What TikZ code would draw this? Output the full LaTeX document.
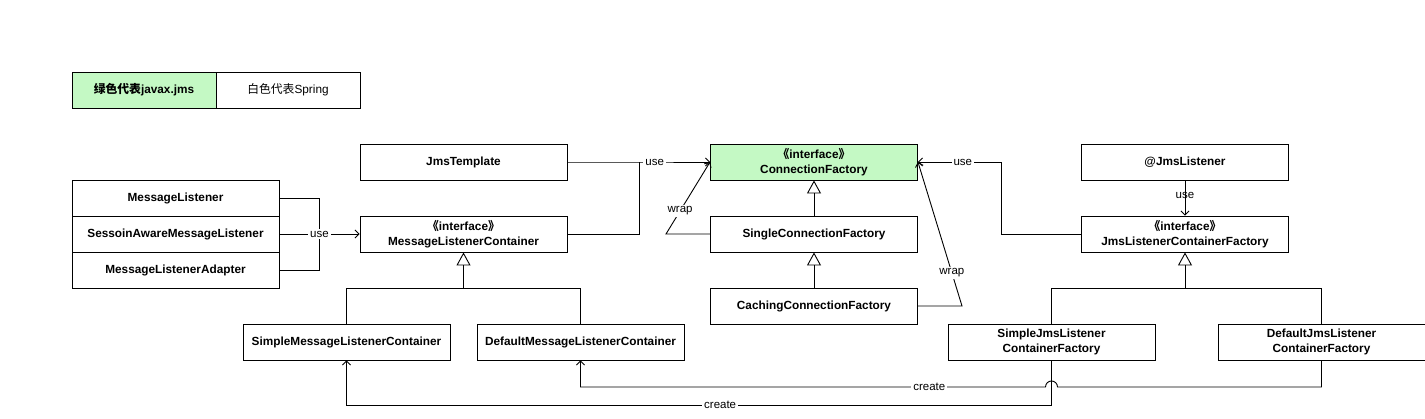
\documentclass[tikz,border=0pt]{standalone}
\usepackage{fontspec}
\setmainfont{Liberation Sans}
\newfontfamily\cjk{Noto Sans CJK SC}
\usetikzlibrary{positioning, arrows.meta}
\definecolor{jmsgreen}{RGB}{196,249,196}

\begin{document}
\begin{tikzpicture}[x=1pt, y=-1pt, node distance=72pt, on grid,
    >={Straight Barb[length=4pt,width=8pt]},
    every path/.style={line width=0.9pt},
    cls/.style={draw, minimum width=207pt, minimum height=36pt, inner sep=0pt,
      align=center, font=\fontsize{11.8}{15}\selectfont\bfseries},
    jms/.style={cls, fill=jmsgreen},
    lbl/.style={fill=white, inner sep=2pt, font=\fontsize{11.5}{14}\selectfont},
    inherit/.style={-{Triangle[open, length=13pt, width=14pt]}}]
  \useasboundingbox (0,0) rectangle (1425,419);

  \node[jms, minimum width=144pt] (legjms) at (144,90) {{\cjk 绿色代表}javax.jms};
  \node[cls, minimum width=144pt, font=\fontsize{11.8}{15}\selectfont, right=144pt of legjms] (legspring) {{\cjk 白色代表}Spring};

  \node[cls] (ml) at (175.5,198) {MessageListener};
  \node[cls, below=36pt of ml] (sal) {SessoinAwareMessageListener};
  \node[cls, below=36pt of sal] (mla) {MessageListenerAdapter};

  \node[cls] (jt) at (463.5,162) {JmsTemplate};
  \node[cls, below=of jt] (mlc) {{\cjk 《}interface{\cjk 》}\\MessageListenerContainer};
  \node[cls] (smlc) at (346.5,342) {SimpleMessageListenerContainer};
  \node[cls] (dmlc) at (580.5,342) {DefaultMessageListenerContainer};

  \node[jms] (cf) at (814,162) {{\cjk 《}interface{\cjk 》}\\ConnectionFactory};
  \node[cls, below=of cf] (scf) {SingleConnectionFactory};
  \node[cls, below=of scf] (ccf) {CachingConnectionFactory};

  \node[cls] (jl) at (1185,162) {@JmsListener};
  \node[cls, below=of jl] (jlcf) {{\cjk 《}interface{\cjk 》}\\JmsListenerContainerFactory};
  \node[cls] (sjlcf) at (1051.5,342) {SimpleJmsListener\\ContainerFactory};
  \node[cls] (djlcf) at (1321.5,342) {DefaultJmsListener\\ContainerFactory};

  \coordinate (usejoin) at (319,234);
  \coordinate (tjoin) at (639,162);
  \coordinate (wrapa) at (666,234);
  \coordinate (wrapb) at (962,306);
  \coordinate (fjoin) at (1001,234);
  \coordinate (mlcjoin) at (463.5,288);
  \coordinate (jlcfjoin) at (1185,288);
  \coordinate (createa) at (1051.5,405);
  \coordinate (createb) at (346.5,405);
  \coordinate (createc) at (1321.5,387);
  \coordinate (created) at (580.5,387);
  \coordinate (hop) at (1057.5,387);

  \draw (ml.east) -| (usejoin);
  \draw (mla.east) -| (usejoin);
  \draw[->] (sal.east) -- node[lbl] {use} (mlc.west);

  \draw (mlc.east) -| (tjoin);
  \draw[->] (jt.east) -- (tjoin) -- node[lbl, pos=0.22] {use} (cf.west);
  \draw[->] (scf.west) -- (wrapa) -- node[lbl, pos=0.32] {wrap} (cf.west);
  \draw[->] (ccf.east) -- (wrapb) -- node[lbl, pos=0.23] {wrap} (cf.east);
  \draw[->] (jlcf.west) -- (fjoin) |- node[lbl, pos=0.73] {use} (cf.east);
  \draw[->] (jl) -- node[lbl, fill=none, inner sep=1pt, pos=0.42] {use} (jlcf);

  \draw[inherit] (scf) -- (cf);
  \draw[inherit] (ccf) -- (scf);
  \draw (smlc.north) |- (mlcjoin);
  \draw (dmlc.north) |- (mlcjoin);
  \draw[inherit] (mlcjoin) -- (mlc.south);
  \draw (sjlcf.north) |- (jlcfjoin);
  \draw (djlcf.north) |- (jlcfjoin);
  \draw[inherit] (jlcfjoin) -- (jlcf.south);

  \draw[->] (sjlcf.south) -- (createa) -- node[lbl, pos=0.47] {create} (createb) -- (smlc.south);
  \draw[->] (djlcf.south) -- (createc) -- (hop) arc[start angle=0, end angle=180, radius=6pt]
    -- node[lbl, pos=0.25] {create} (created) -- (dmlc.south);
\end{tikzpicture}
\end{document}
